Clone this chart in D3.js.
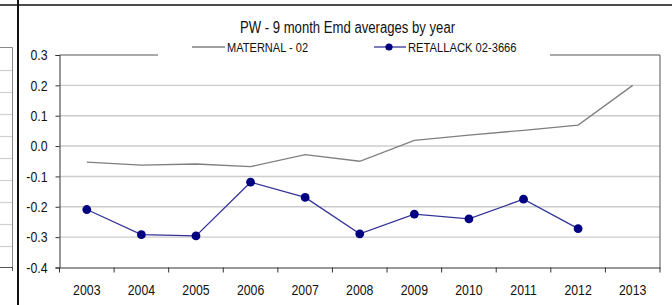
<!DOCTYPE html>
<html><head><meta charset="utf-8">
<script src="https://cdn.jsdelivr.net/npm/d3@7"></script>
<style>
html,body{margin:0;padding:0;background:#fff;}
svg{display:block;}
text{font-family:"Liberation Sans Narrow","Arial Narrow","Liberation Sans",Arial,sans-serif;fill:#111;}
</style></head>
<body>
<svg id="c" width="672" height="305"></svg>
<script>
const years = ["2003","2004","2005","2006","2007","2008","2009","2010","2011","2012","2013"];
const maternal = [-0.053,-0.063,-0.059,-0.068,-0.028,-0.050,0.019,0.036,0.052,0.069,0.200];
const retallack = [-0.209,-0.292,-0.296,-0.119,-0.169,-0.289,-0.224,-0.240,-0.175,-0.272,null];
const yTicks = [0.3,0.2,0.1,0.0,-0.1,-0.2,-0.3,-0.4];
const title = "PW - 9 month Emd averages by year";
const seriesNames = ["MATERNAL - 02","RETALLACK 02-3666"];

const svg = d3.select("#c");
const L=59.5, R=660, T=55, B=267.5;

function condense(sel, sq){
  sel.each(function(){
    const w = this.getComputedTextLength();
    if (w>0) d3.select(this).attr("textLength", (w*sq).toFixed(2)).attr("lengthAdjust","spacingAndGlyphs");
  });
}

// left artefact (neighbouring chart)
const lb = svg.append("g");
const leftGrid = d3.range(1,10);
const ly = d3.scaleLinear().domain([0,10]).range([47.5,267.5]);
lb.selectAll("line.g").data(leftGrid).join("line")
  .attr("x1",0).attr("x2",12).attr("y1",d=>Math.round(ly(d))+0.5).attr("y2",d=>Math.round(ly(d))+0.5)
  .attr("stroke","#d0d0d0").attr("stroke-width",1.2);
lb.append("path").attr("d","M0,47.5H12.5V267.5").attr("fill","none").attr("stroke","#8a8a8a").attr("stroke-width",1);
lb.append("path").attr("d","M0,267.5H13").attr("fill","none").attr("stroke","#555").attr("stroke-width",1);
lb.append("path").attr("d","M12.5,267.5V271").attr("fill","none").attr("stroke","#555").attr("stroke-width",1);

// frame lines
svg.append("line").attr("x1",0).attr("x2",672).attr("y1",5).attr("y2",5).attr("stroke","#111").attr("stroke-width",1.5);
svg.append("line").attr("x1",18).attr("x2",18).attr("y1",0).attr("y2",305).attr("stroke","#111").attr("stroke-width",2);

const x = d3.scaleBand().domain(years).range([L,R]).padding(0);
const y = d3.scaleLinear().domain([-0.4,0.3]).range([B,T]);

// gridlines
svg.append("g").selectAll("line").data(yTicks.filter(v=>v<0.29 && v>-0.39)).join("line")
  .attr("x1",L).attr("x2",R).attr("y1",d=>y(d)).attr("y2",d=>y(d))
  .attr("stroke","#cccccc").attr("stroke-width",1.4);

// plot border top (broken by legend) and right
svg.append("path").attr("d",`M${L},${T}H158M550,${T}H${R}V${B}`).attr("fill","none").attr("stroke","#555").attr("stroke-width",1);

// y axis
const yAxis = d3.axisLeft(y).tickValues(yTicks).tickSize(4).tickPadding(8);
const ga = svg.append("g").attr("transform",`translate(${L},0)`).call(yAxis);
ga.select(".domain").attr("stroke","#333");
ga.selectAll(".tick line").attr("stroke","#333");
ga.selectAll("text").style("font-size","15px").attr("font-family",null).attr("fill","#222")
  .text(d=>d3.format(".1f")(d).replace("\u2212","-"));
condense(ga.selectAll("text"), 0.82);

// x axis
const xAxis = d3.axisBottom(x).tickSize(0).tickPadding(17);
const gx = svg.append("g").attr("transform",`translate(0,${B})`).call(xAxis);
gx.select(".domain").attr("stroke","#333");
gx.selectAll("text").style("font-size","15px").attr("font-family",null).attr("fill","#222");
condense(gx.selectAll("text"), 0.82);
const bounds = years.map(d=>x(d)).concat([R]);
gx.selectAll("line.tb").data(bounds).join("line").attr("class","tb")
  .attr("x1",d=>d).attr("x2",d=>d).attr("y1",0).attr("y2",5).attr("stroke","#333");

const cx = d=>x(d)+x.bandwidth()/2;
// maternal
svg.append("path").datum(years.map((d,i)=>[d,maternal[i]]))
  .attr("d",d3.line().x(d=>cx(d[0])).y(d=>y(d[1])))
  .attr("fill","none").attr("stroke","#7f7f7f").attr("stroke-width",1.3);
// retallack
const rd = years.map((d,i)=>[d,retallack[i]]).filter(d=>d[1]!=null);
svg.append("path").datum(rd)
  .attr("d",d3.line().x(d=>cx(d[0])).y(d=>y(d[1])))
  .attr("fill","none").attr("stroke","#333399").attr("stroke-width",1.3);
svg.append("g").selectAll("circle").data(rd).join("circle")
  .attr("cx",d=>cx(d[0])).attr("cy",d=>y(d[1])).attr("r",4.4).attr("fill","#000080");

// title
const tt = svg.append("text").attr("x",347.5).attr("y",33).attr("text-anchor","middle").style("font-size","16px").attr("fill","#111").text(title);
condense(tt, 0.82);

// legend
const lg = svg.append("g");
lg.append("line").attr("x1",192).attr("x2",225).attr("y1",47).attr("y2",47).attr("stroke","#7f7f7f").attr("stroke-width",1.3);
condense(lg.append("text").attr("x",227).attr("y",52).style("font-size","13px").attr("fill","#222").text(seriesNames[0]), 0.85);
lg.append("line").attr("x1",374).attr("x2",406).attr("y1",47).attr("y2",47).attr("stroke","#333399").attr("stroke-width",1.3);
lg.append("circle").attr("cx",389).attr("cy",47).attr("r",3.6).attr("fill","#000080");
condense(lg.append("text").attr("x",408).attr("y",52).style("font-size","13px").attr("fill","#222").text(seriesNames[1]), 0.86);
</script>
</body></html>
